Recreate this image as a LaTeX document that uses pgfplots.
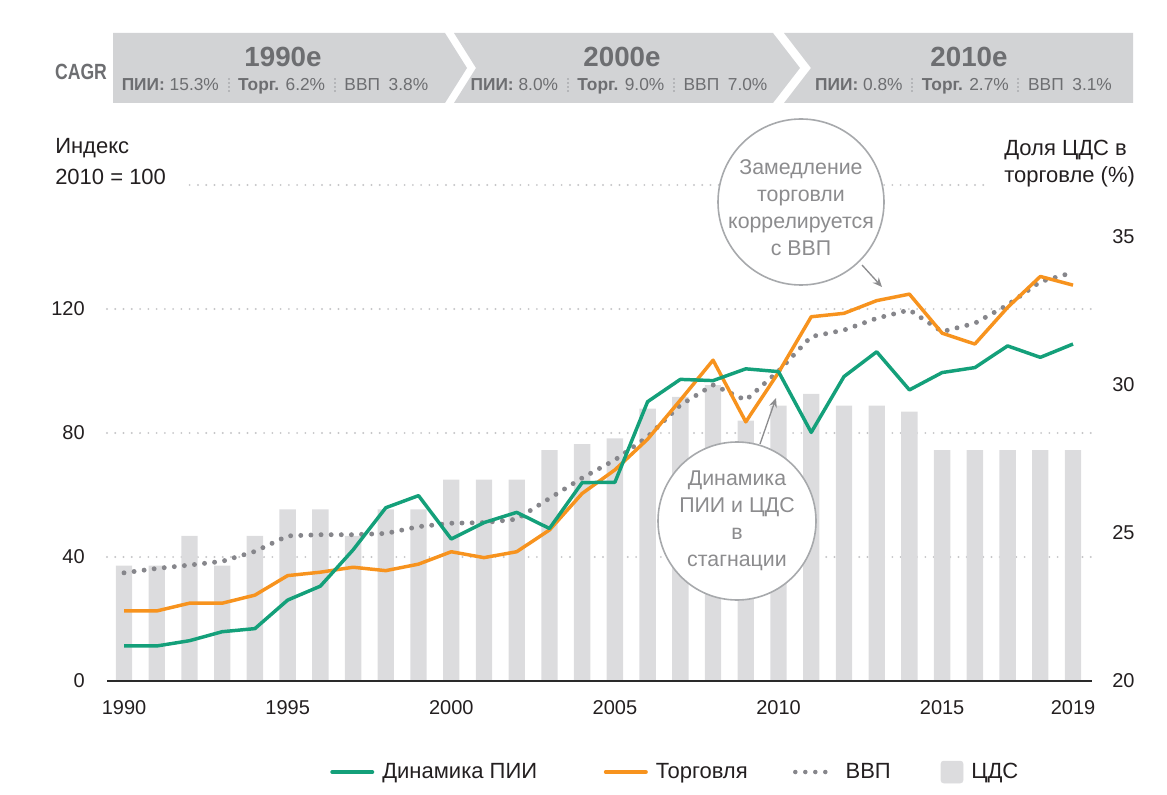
\documentclass[border=0pt]{standalone}
\usepackage{fontspec}
\setmainfont{Liberation Sans}
\newfontfamily\condfont[FakeStretch=0.8]{Liberation Sans}
\usepackage{pgfplots}
\pgfplotsset{compat=1.18}
\usepackage{pgfplotstable}
\usetikzlibrary{arrows.meta}

\definecolor{fdic}{HTML}{14A07A}
\definecolor{tradec}{HTML}{F7931E}
\definecolor{gdpc}{HTML}{86868B}
\definecolor{barc}{HTML}{DCDCDE}
\definecolor{gridc}{HTML}{C6C6C8}
\definecolor{axisc}{HTML}{2A2A2A}
\definecolor{tickc}{HTML}{231F20}
\definecolor{banc}{HTML}{D2D3D5}
\definecolor{bantext}{HTML}{6D6E71}
\definecolor{sepc}{HTML}{B4B5B8}
\definecolor{bubc}{HTML}{A7A9AC}
\definecolor{bubtext}{HTML}{8C8C8E}

\pgfplotstableread{
year fdi trade gdp gvc
1990 11.3 22.6 34.9 23.9
1991 11.3 22.6 36.3 23.9
1992 13.0 25.1 37.4 24.9
1993 15.9 25.1 38.6 23.9
1994 16.9 27.7 41.8 24.9
1995 26.1 34.0 46.8 25.8
1996 30.6 35.1 47.2 25.8
1997 42.3 36.7 47.2 24.9
1998 55.9 35.6 47.6 25.8
1999 59.8 37.7 49.8 25.8
2000 45.8 41.7 50.9 26.8
2001 51.1 39.8 51.1 26.8
2002 54.4 41.7 52.2 26.8
2003 49.2 48.7 58.9 27.8
2004 64.0 60.5 65.5 28.0
2005 64.1 68.1 71.3 28.2
2006 90.1 78.0 78.8 29.2
2007 97.3 90.6 89.0 29.6
2008 96.9 103.5 95.5 30.0
2009 100.7 83.6 90.6 28.8
2010 99.8 99.5 100.0 29.3
2011 80.2 117.5 111.1 29.7
2012 98.2 118.6 113.2 29.3
2013 106.2 122.7 117.0 29.3
2014 93.9 124.8 119.7 29.1
2015 99.5 112.2 112.7 27.8
2016 101.1 108.7 115.4 27.8
2017 108.1 120.5 121.3 27.8
2018 104.4 130.5 128.8 27.8
2019 108.7 127.7 131.8 27.8
}\datatable

\pgfplotsset{
  base/.style={scale only axis, width=738.75pt, height=372pt,
    at={(80.25pt,84.75pt)}, anchor=south west,
    xmin=1989.48, xmax=2019.58,
    major tick length=0pt, tick style={draw=none},
    tick label style={font=\fontsize{15}{18}\selectfont, text=tickc}},
  linelegend/.style={legend image code/.code={\draw[##1] (0pt,0pt) -- (30pt,0pt);}},
  boxlegend/.style={legend image code/.code={\fill[##1, rounded corners=2pt] (0pt,-8.25pt) rectangle (16.5pt,8.25pt);}},
}

\newcommand{\sepdots}{\hspace{0.5em}\raisebox{-1pt}{\color{sepc}\vbox{\hrule width 1.5pt height 1.5pt \vskip 1.6pt \hrule width 1.5pt height 1.5pt \vskip 1.6pt \hrule width 1.5pt height 1.5pt \vskip 1.6pt \hrule width 1.5pt height 1.5pt}}\hspace{0.5em}}

\begin{document}
\begin{tikzpicture}[x=0.75pt,y=0.75pt]
\path[use as bounding box] (0,0) rectangle (1167,794);

% grid axis (left scale)
\begin{axis}[base, ymin=0, ymax=160,
  ytick={40,80,120,160}, yticklabels={,,,}, xtick=\empty,
  ymajorgrids, grid style={gridc, line width=1.6pt, line cap=round, dash pattern=on 0pt off 6.2pt},
  axis line style={draw=none}]
\end{axis}

% bar axis (right scale)
\begin{axis}[base, ymin=20, ymax=36.757,
  axis x line=none, axis y line*=right, y axis line style={draw=none},
  ytick={20,25,30,35}, yticklabels={20,25,30,35},
  yticklabel style={anchor=west, inner sep=0pt, xshift=15pt}]
\addplot[ybar, bar width=0.5, bar shift=0pt, fill=barc, draw=none] table[x=year,y=gvc]{\datatable};
\end{axis}

% line axis (left scale)
\begin{axis}[base, ymin=0, ymax=160,
  axis x line*=bottom, axis y line*=left,
  y axis line style={draw=none},
  x axis line style={draw=axisc, line width=1.3pt, -},
  ytick={0,40,80,120}, yticklabels={0,40,80,120},
  yticklabel style={anchor=east, inner sep=0pt, xshift=-16.5pt},
  xtick={1990,1995,2000,2005,2010,2015,2019},
  xticklabels={1990,1995,2000,2005,2010,2015,2019},
  xticklabel style={anchor=north, inner sep=0pt, yshift=-14.5pt},
  legend style={at={(0.2264,-0.1835)}, anchor=west, draw=none, fill=none,
    inner sep=0pt, font=\fontsize{16.5}{19.8}\selectfont, text=tickc,
    legend columns=4, nodes={inner sep=0pt},
    /tikz/every odd column/.style={column sep=6pt},
    /tikz/column 2/.style={column sep=50pt},
    /tikz/column 4/.style={column sep=34pt},
    /tikz/column 6/.style={column sep=37.5pt},
    /tikz/column 7/.style={column sep=8pt}},
  legend cell align=left]
\addplot[forget plot, gdpc, line width=3.7pt, line cap=round, dash pattern=on 0pt off 7.6pt] table[x=year,y=gdp]{\datatable};
\addplot[forget plot, tradec, line width=2.6pt, line join=round] table[x=year,y=trade]{\datatable};
\addplot[forget plot, fdic, line width=2.6pt, line join=round] table[x=year,y=fdi]{\datatable};
\addlegendimage{linelegend, fdic, line width=3pt, line cap=round}
\addlegendentry{Динамика ПИИ}
\addlegendimage{linelegend, tradec, line width=3pt, line cap=round}
\addlegendentry{Торговля}
\addlegendimage{linelegend, gdpc, line width=3.4pt, line cap=round, dash pattern=on 0pt off 7.5pt}
\addlegendentry{ВВП}
\addlegendimage{boxlegend, barc}
\addlegendentry{ЦДС}
\end{axis}

% cover top gridline where titles sit
\fill[white] (95,601) rectangle (186,616);
\fill[white] (988,601) rectangle (1100,616);

% titles
\node[anchor=west, align=left, inner sep=0pt, text=tickc,
  font=\fontsize{16.5}{23.25}\selectfont] at (55,632) {Индекс\\2010 = 100};
\node[anchor=west, align=left, inner sep=0pt, text=tickc,
  font=\fontsize{16.5}{20.25}\selectfont] at (1004,630) {Доля ЦДС в\\торговле (\%)};

% callouts
\fill[white] (801,592) circle (83);
\draw[bubc, line width=1.2pt] (801,592) circle (83);
\node[align=center, text=bubtext, inner sep=0pt, font=\fontsize{16}{20.25}\selectfont]
  at (801,586) {Замедление\\торговли\\коррелируется\\с ВВП};
\draw[bubtext, line width=1pt, -{Stealth[length=7pt,width=6pt]}] (862,529) -- (882,507);

\fill[white] (737,273) circle (79);
\draw[bubc, line width=1.2pt] (737,273) circle (79);
\node[align=center, text=bubtext, inner sep=0pt, font=\fontsize{16}{20.25}\selectfont]
  at (737,273) {Динамика\\ПИИ и ЦДС\\в\\стагнации};
\draw[bubtext, line width=1pt, -{Stealth[length=7pt,width=6pt]}] (760,350) -- (776,396);

% banner
\fill[banc] (113,761) -- (445,761) -- (467,726) -- (445,691) -- (113,691) -- cycle;
\fill[banc] (454,761) -- (773,761) -- (800,726) -- (773,691) -- (454,691) -- (476,726) -- cycle;
\fill[banc] (784,761) -- (1133,761) -- (1133,691) -- (784,691) -- (811,726) -- cycle;

\node[text=bantext, inner sep=0pt, font=\condfont\bfseries\fontsize{16.5}{20}\selectfont] at (81,722) {CAGR};

\node[text=bantext, inner sep=0pt, font=\bfseries\fontsize{20.8}{24}\selectfont] at (283,737) {1990e};
\node[text=bantext, inner sep=0pt, font=\bfseries\fontsize{20.8}{24}\selectfont] at (622,737) {2000e};
\node[text=bantext, inner sep=0pt, font=\bfseries\fontsize{20.8}{24}\selectfont] at (969,737) {2010e};

\node[text=bantext, inner sep=0pt, font=\fontsize{13}{15}\selectfont] at (275,708)
  {\textbf{ПИИ:} 15.3\%\sepdots\textbf{Торг.} 6.2\%\sepdots ВВП\enspace 3.8\%};
\node[text=bantext, inner sep=0pt, font=\fontsize{13}{15}\selectfont] at (619,708)
  {\textbf{ПИИ:} 8.0\%\sepdots\textbf{Торг.} 9.0\%\sepdots ВВП\enspace 7.0\%};
\node[text=bantext, inner sep=0pt, font=\fontsize{13}{15}\selectfont] at (963.5,708)
  {\textbf{ПИИ:} 0.8\%\sepdots\textbf{Торг.} 2.7\%\sepdots ВВП\enspace 3.1\%};
\end{tikzpicture}
\end{document}
